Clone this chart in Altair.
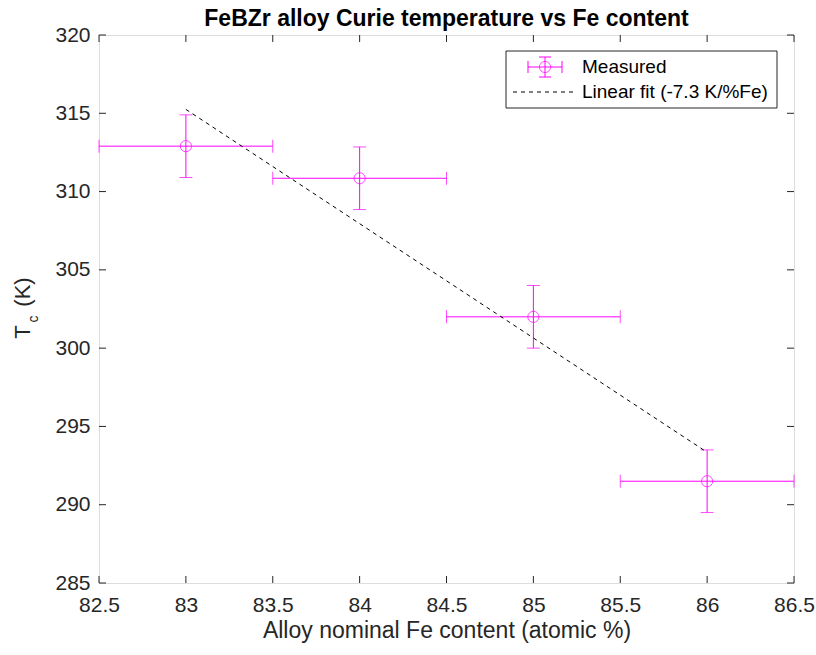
import altair as alt
import pandas as pd

# ---- data ----
fe = [83, 84, 85, 86]
tc = [312.9, 310.85, 302.0, 291.5]
fe_err = [0.5, 0.5, 0.5, 0.5]
tc_err = [2.0, 2.0, 2.0, 2.0]
fit_x = [83, 86]
fit_y = [315.25, 293.35]
x_ticks = [82.5, 83, 83.5, 84, 84.5, 85, 85.5, 86, 86.5]
y_ticks = [285, 290, 295, 300, 305, 310, 315, 320]
legend_labels = ["Measured", "Linear fit (-7.3 K/%Fe)"]
title_text = "FeBZr alloy Curie temperature vs Fe content"

W, H = 695, 548
FONT = "Liberation Sans"
MAG = "#FF00FF"
AX = "#262626"

df = pd.DataFrame({"fe": fe, "tc": tc})
df["xlo"] = [a - b for a, b in zip(fe, fe_err)]
df["xhi"] = [a + b for a, b in zip(fe, fe_err)]
df["ylo"] = [a - b for a, b in zip(tc, tc_err)]
df["yhi"] = [a + b for a, b in zip(tc, tc_err)]
fit = pd.DataFrame({"fe": fit_x, "tc": fit_y})
xt = pd.DataFrame({"v": x_ticks})
yt = pd.DataFrame({"v": y_ticks})
one = pd.DataFrame({"a": [0]})

xs = alt.Scale(domain=[82.5, 86.5], nice=False, zero=False)
ys = alt.Scale(domain=[285, 320], nice=False, zero=False)

xaxis = alt.Axis(values=x_ticks, ticks=False, domain=False, grid=False, format="~g",
                 labelFontSize=21, labelFont=FONT, labelColor=AX, labelPadding=11,
                 title="Alloy nominal Fe content (atomic %)", titleFontSize=23,
                 titleFont=FONT, titleColor=AX, titleFontWeight="normal", titlePadding=4,
                 labelFlush=False)
yaxis = alt.Axis(values=y_ticks, ticks=False, domain=False, grid=False, format="~g",
                 labelFontSize=21, labelFont=FONT, labelColor=AX, labelPadding=9,
                 title=None)

base = alt.Chart(df)

hbar = base.mark_rule(color=MAG, strokeWidth=1).encode(
    x=alt.X("xlo:Q", scale=xs, axis=xaxis), x2="xhi:Q",
    y=alt.Y("tc:Q", scale=ys, axis=yaxis))
vbar = base.mark_rule(color=MAG, strokeWidth=1).encode(
    x=alt.X("fe:Q", scale=xs), y=alt.Y("ylo:Q", scale=ys), y2="yhi:Q")
capx1 = base.mark_tick(color=MAG, orient="vertical", size=13, thickness=1).encode(
    x=alt.X("xlo:Q", scale=xs), y=alt.Y("tc:Q", scale=ys))
capx2 = base.mark_tick(color=MAG, orient="vertical", size=13, thickness=1).encode(
    x=alt.X("xhi:Q", scale=xs), y=alt.Y("tc:Q", scale=ys))
capy1 = base.mark_tick(color=MAG, orient="horizontal", size=13, thickness=1).encode(
    x=alt.X("fe:Q", scale=xs), y=alt.Y("ylo:Q", scale=ys))
capy2 = base.mark_tick(color=MAG, orient="horizontal", size=13, thickness=1).encode(
    x=alt.X("fe:Q", scale=xs), y=alt.Y("yhi:Q", scale=ys))
pts = base.mark_point(shape="circle", size=125, color=MAG, filled=False, strokeWidth=1).encode(
    x=alt.X("fe:Q", scale=xs), y=alt.Y("tc:Q", scale=ys))

fitline = alt.Chart(fit).mark_line(color="black", strokeWidth=1, strokeDash=[4, 4]).encode(
    x=alt.X("fe:Q", scale=xs), y=alt.Y("tc:Q", scale=ys))

# inward ticks on all four sides
tb = alt.Chart(xt).mark_rule(color=AX, strokeWidth=1).encode(
    x=alt.X("v:Q", scale=xs), y=alt.value(H), y2=alt.value(H - 7))
tt = alt.Chart(xt).mark_rule(color=AX, strokeWidth=1).encode(
    x=alt.X("v:Q", scale=xs), y=alt.value(0), y2=alt.value(7))
tl = alt.Chart(yt).mark_rule(color=AX, strokeWidth=1).encode(
    y=alt.Y("v:Q", scale=ys), x=alt.value(0), x2=alt.value(7))
tr = alt.Chart(yt).mark_rule(color=AX, strokeWidth=1).encode(
    y=alt.Y("v:Q", scale=ys), x=alt.value(W), x2=alt.value(W - 7))

# title
ttl = alt.Chart(one).mark_text(text=title_text, font=FONT, fontSize=23, fontWeight="bold",
                               color="black", align="center", baseline="alphabetic").encode(
    x=alt.value(W / 2), y=alt.value(-9))

# y title with subscript
ytT = alt.Chart(one).mark_text(text="T", angle=270, font=FONT, fontSize=22, color=AX,
                               align="center", baseline="alphabetic").encode(
    x=alt.value(-69), y=alt.value(297))
ytc = alt.Chart(one).mark_text(text="c", angle=270, font=FONT, fontSize=14, color=AX,
                               align="center", baseline="alphabetic").encode(
    x=alt.value(-61), y=alt.value(284))
ytK = alt.Chart(one).mark_text(text="(K)", angle=270, font=FONT, fontSize=22, color=AX,
                               align="center", baseline="alphabetic").encode(
    x=alt.value(-69), y=alt.value(257))

# legend
lbox = alt.Chart(one).mark_rect(fill="white", stroke=AX, strokeWidth=1).encode(
    x=alt.value(407), x2=alt.value(678), y=alt.value(16), y2=alt.value(73))
lcx, lcy = 446, 32
lh = alt.Chart(one).mark_rule(color=MAG, strokeWidth=1).encode(
    x=alt.value(lcx - 17), x2=alt.value(lcx + 17), y=alt.value(lcy))
lv = alt.Chart(one).mark_rule(color=MAG, strokeWidth=1).encode(
    x=alt.value(lcx), y=alt.value(lcy - 10), y2=alt.value(lcy + 10))
lc1 = alt.Chart(one).mark_rule(color=MAG, strokeWidth=1).encode(
    x=alt.value(lcx - 17), y=alt.value(lcy - 6), y2=alt.value(lcy + 6))
lc2 = alt.Chart(one).mark_rule(color=MAG, strokeWidth=1).encode(
    x=alt.value(lcx + 17), y=alt.value(lcy - 6), y2=alt.value(lcy + 6))
lc3 = alt.Chart(one).mark_rule(color=MAG, strokeWidth=1).encode(
    x=alt.value(lcx - 6), x2=alt.value(lcx + 6), y=alt.value(lcy - 10))
lc4 = alt.Chart(one).mark_rule(color=MAG, strokeWidth=1).encode(
    x=alt.value(lcx - 6), x2=alt.value(lcx + 6), y=alt.value(lcy + 10))
lp = alt.Chart(one).mark_point(shape="circle", size=125, color=MAG, filled=False,
                               strokeWidth=1).encode(x=alt.value(lcx), y=alt.value(lcy))
ld = alt.Chart(one).mark_rule(color="black", strokeWidth=1, strokeDash=[4, 4]).encode(
    x=alt.value(414), x2=alt.value(476), y=alt.value(57))
lt1 = alt.Chart(one).mark_text(text=legend_labels[0], font=FONT, fontSize=19, color="black",
                               align="left", baseline="middle").encode(
    x=alt.value(483), y=alt.value(lcy))
lt2 = alt.Chart(one).mark_text(text=legend_labels[1], font=FONT, fontSize=19, color="black",
                               align="left", baseline="middle").encode(
    x=alt.value(483), y=alt.value(57))

chart = alt.layer(
    hbar, vbar, capx1, capx2, capy1, capy2, pts, fitline,
    tb, tt, tl, tr, ttl, ytT, ytc, ytK,
    lbox, lh, lv, lc1, lc2, lc3, lc4, lp, ld, lt1, lt2,
).properties(
    width=W, height=H,
    autosize=alt.AutoSizeParams(type="none"),
    padding={"left": 99, "top": 35, "right": 22, "bottom": 72},
).configure_view(stroke=AX, strokeWidth=1).configure(background="white")

chart.save("out.html", embed_options={"renderer": "svg", "actions": False})
